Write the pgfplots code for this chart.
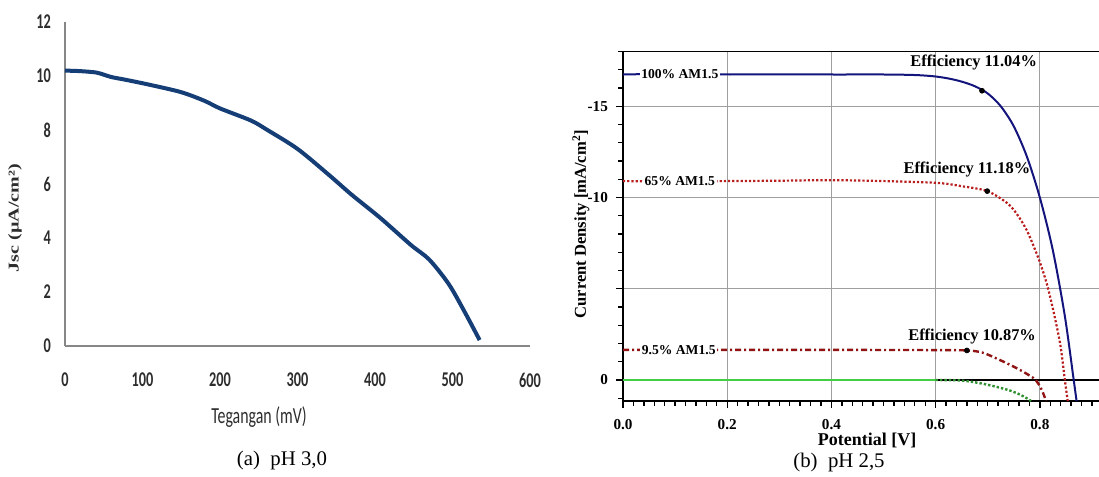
\documentclass[border=0pt]{standalone}
\usepackage{pgfplots}
\pgfplotsset{compat=1.18}
\usepackage{fontspec}
\usepackage{graphicx}
\setmainfont{Liberation Serif}
\newfontfamily\calibri{Carlito}
\definecolor{curveblue}{RGB}{22,62,118}
\definecolor{axgray}{RGB}{135,135,135}
\definecolor{lblgray}{RGB}{45,45,45}
\definecolor{ivnavy}{RGB}{20,20,125}
\definecolor{ivred}{RGB}{185,30,30}
\definecolor{ivdred}{RGB}{145,20,20}
\definecolor{ivgreen}{RGB}{70,205,70}
% left panel text is squeezed sideways in the original
\newcommand\lt[1]{\scalebox{0.68}[1]{\calibri\bfseries\fontsize{10.5}{12}\selectfont #1}}
\newcommand\rt[1]{\bfseries\fontsize{7.6}{9}\selectfont #1}

\begin{document}
\begin{tikzpicture}
\useasboundingbox (0,0) rectangle (549.5pt,-238.5pt);

% (a) pH 3,0
\begin{axis}[
    at={(32.5pt,-173pt)}, anchor=south west, scale only axis,
    width=232.5pt, height=162pt,
    xmin=0, xmax=600, ymin=0, ymax=12,
    axis x line*=bottom, axis y line*=left,
    axis line style={draw=axgray, line width=0.8pt},
    major tick length=0pt,
    xtick={0,100,200,300,400,500,600},
    xticklabels={\lt{0},\lt{100},\lt{200},\lt{300},\lt{400},\lt{500},\lt{600}},
    ytick={0,2,4,6,8,10,12},
    yticklabels={\lt{0},\lt{2},\lt{4},\lt{6},\lt{8},\lt{10},\lt{12}},
    ticklabel style={text=lblgray},
    xticklabel style={yshift=-10pt},
    yticklabel style={xshift=-3.5pt},
    clip=false
]
\addplot[curveblue, line width=2pt, smooth] coordinates {
    (0,10.2) (20,10.18) (40,10.13) (50,10.05) (60,9.96) (80,9.85)
    (110,9.67) (150,9.4) (180,9.08) (200,8.8) (240,8.35) (260,8.02)
    (300,7.3) (340,6.35) (370,5.6) (407,4.74) (446,3.75) (470,3.2)
    (495,2.3) (515,1.3) (535,0.22)
};
\end{axis}
\node[rotate=90, text=lblgray] at (7.5pt,-109pt)
    {\scalebox{1}[0.75]{\bfseries\fontsize{10}{12}\selectfont Jsc (µA/cm²)}};
\node[text=lblgray] at (129.5pt,-208.5pt)
    {\scalebox{0.69}[1]{\calibri\fontsize{11.5}{13}\selectfont Tegangan (mV)}};
\node at (141pt,-230pt) {\fontsize{10.4}{12}\selectfont (a)\ \ pH 3,0};

% (b) pH 2,5 -- current density runs negative upwards, so the values are flipped
\begin{axis}[
    at={(311.5pt,-200.5pt)}, anchor=south west, scale only axis,
    width=242.3pt, height=174.75pt,
    xmin=0, xmax=0.93, ymin=-1.15, ymax=18,
    y filter/.expression={-y},
    axis line style={black, line width=0.9pt},
    xtick={0,0.2,0.4,0.6,0.8},
    xticklabels={\rt{0.0},\rt{0.2},\rt{0.4},\rt{0.6},\rt{0.8}},
    minor xtick={0.02,0.04,...,0.92},
    ytick={15,10,5,0},
    yticklabels={\rt{-15},\rt{-10},,\rt{0}},
    minor ytick={-1,1,2,...,18},
    tick align=outside, xtick pos=left, ytick pos=left,
    major tick length=3.5pt, minor tick length=2.5pt,
    tick style={black, line width=0.7pt},
    grid=major, major grid style={gray!75, line width=0.5pt},
    xticklabel style={yshift=-2pt},
    yticklabel style={xshift=-0.5pt}
]
\addplot[black, line width=0.8pt] coordinates {(0,0) (0.93,0)};
\addplot[ivgreen, line width=1.2pt] coordinates {(0,0) (0.6,0)};
\addplot[ivgreen!70!black, line width=1.2pt, densely dotted, smooth] coordinates {
    (0.6,0) (0.65,0.03) (0.69,0.2) (0.723,0.42) (0.745,0.6)
    (0.762,0.8) (0.775,1.0) (0.783,1.15)
};
\addplot[ivnavy, line width=1pt, smooth] coordinates {
    (0,-16.75) (0.1,-16.76) (0.2,-16.74) (0.3,-16.75) (0.4,-16.74)
    (0.5,-16.74) (0.55,-16.72) (0.575,-16.69) (0.6,-16.63) (0.625,-16.52)
    (0.65,-16.35) (0.675,-16.1) (0.7,-15.7) (0.725,-15.0) (0.75,-13.9)
    (0.775,-12.25) (0.8,-10.0) (0.825,-7.1) (0.848,-3.5) (0.865,0) (0.8705,1.15)
};
\addplot[ivred, line width=1.1pt, densely dotted, smooth] coordinates {
    (0,-10.9) (0.1,-10.88) (0.2,-10.9) (0.3,-10.92) (0.4,-10.95)
    (0.5,-10.9) (0.603,-10.8) (0.65,-10.62) (0.699,-10.35) (0.737,-9.7)
    (0.757,-9.05) (0.775,-8.2) (0.79,-7.2) (0.802,-6.3) (0.815,-5.1)
    (0.829,-3.4) (0.84,-1.8) (0.848,0) (0.8535,1.15)
};
\addplot[ivdred, line width=1.2pt, dash pattern=on 3pt off 1.5pt on 1pt off 1.5pt, smooth] coordinates {
    (0,-1.65) (0.2,-1.65) (0.4,-1.65) (0.6,-1.64) (0.66,-1.62)
    (0.69,-1.5) (0.723,-1.1) (0.745,-0.8) (0.762,-0.55) (0.78,-0.25)
    (0.792,0) (0.803,0.5) (0.812,1.15)
};
\addplot[only marks, mark=*, mark size=1.2pt, black] coordinates {
    (0.689,-15.85) (0.699,-10.35) (0.66,-1.62)
};
\node[fill=white, inner sep=0.8pt, font=\bfseries\fontsize{6.8}{8}\selectfont] at (axis cs:0.109,16.75) {100\% AM1.5};
\node[fill=white, inner sep=0.8pt, font=\bfseries\fontsize{6.8}{8}\selectfont] at (axis cs:0.109,10.9) {65\% AM1.5};
\node[fill=white, inner sep=0.8pt, font=\bfseries\fontsize{6.8}{8}\selectfont] at (axis cs:0.107,1.65) {9.5\% AM1.5};
\node[font=\bfseries\fontsize{8.2}{10}\selectfont] at (axis cs:0.673,17.42) {Efficiency 11.04\%};
\node[font=\bfseries\fontsize{8.2}{10}\selectfont] at (axis cs:0.660,11.56) {Efficiency 11.18\%};
\node[font=\bfseries\fontsize{8.2}{10}\selectfont] at (axis cs:0.670,2.41) {Efficiency 10.87\%};
\end{axis}
\node[rotate=90] at (290.5pt,-112pt)
    {\bfseries\fontsize{8.3}{10}\selectfont Current Density [mA/cm\textsuperscript{2}]};
\node at (433.5pt,-220pt) {\bfseries\fontsize{9}{11}\selectfont Potential [V]};
\node at (419.5pt,-231pt) {\fontsize{10.4}{12}\selectfont (b)\ \ pH 2,5};
\end{tikzpicture}
\end{document}
